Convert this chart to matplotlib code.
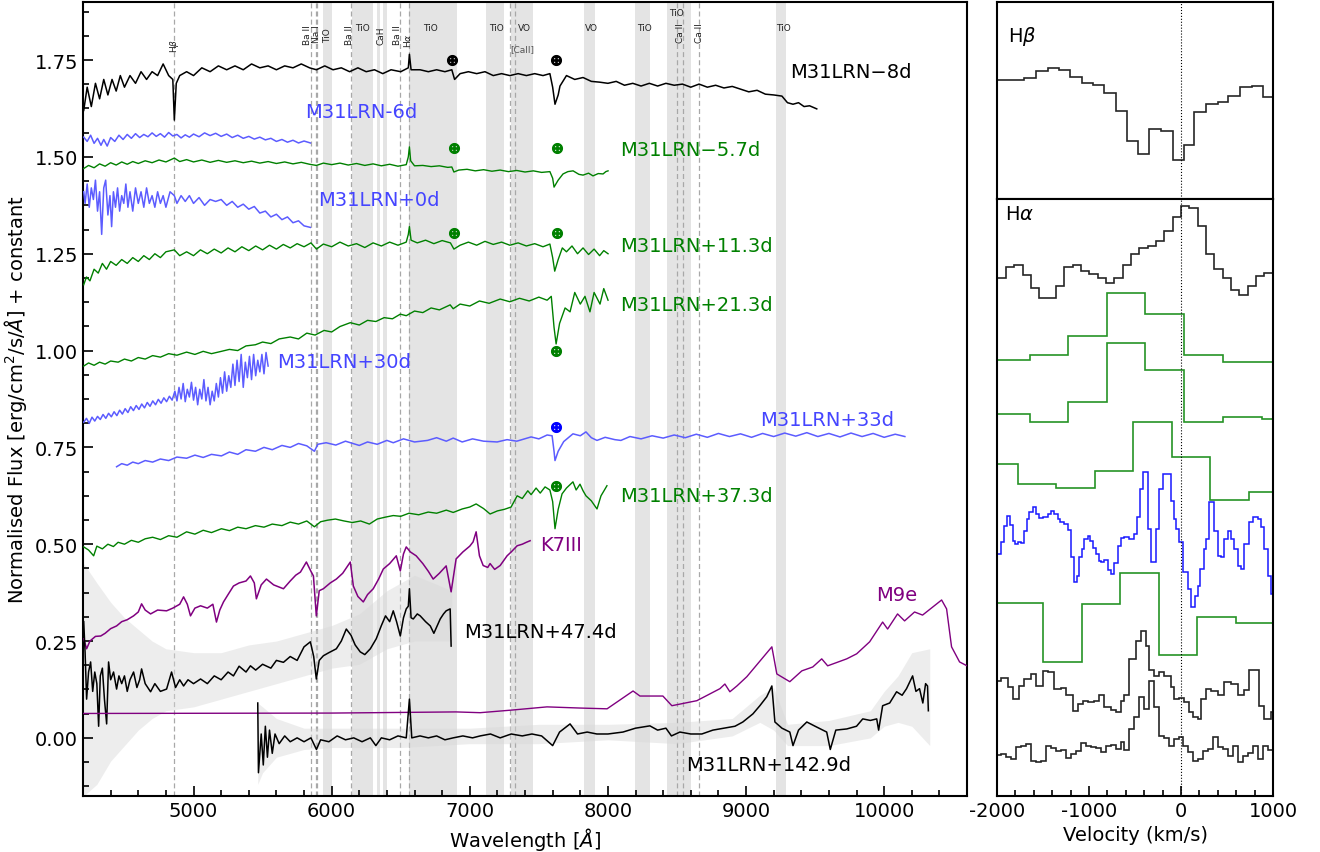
import matplotlib
matplotlib.use("Agg")
import matplotlib.pyplot as plt
from matplotlib.ticker import MultipleLocator, AutoMinorLocator

plt.rcParams["font.family"] = "DejaVu Sans"
plt.rcParams["mathtext.fontset"] = "dejavusans"
plt.rcParams["axes.unicode_minus"] = False

# ---------------- main panel spectra (wavelength [A], flux + offset) ----------------
wl_m8 = [4205, 4230, 4260, 4290, 4320, 4350, 4380, 4410, 4440, 4470, 4500, 4540, 4580, 4620,
         4660, 4700, 4740, 4780, 4820, 4850, 4861, 4875, 4900, 4950, 5000, 5060, 5120, 5180,
         5240, 5300, 5360, 5420, 5480, 5540, 5600, 5660, 5720, 5780, 5840, 5890, 5950, 6010,
         6070, 6130, 6190, 6250, 6310, 6370, 6430, 6500, 6555, 6563, 6575, 6640, 6700, 6760,
         6820, 6870, 6890, 6930, 6990, 7050, 7110, 7170, 7230, 7290, 7350, 7410, 7470, 7530,
         7580, 7600, 7617, 7640, 7653, 7700, 7760, 7820, 7880, 7940, 8000, 8060, 8120, 8180,
         8240, 8300, 8360, 8420, 8480, 8540, 8600, 8660, 8720, 8780, 8840, 8900, 8960, 9020,
         9080, 9140, 9200, 9260, 9300, 9340, 9380, 9420, 9460, 9512]
fl_m8 = [1.62, 1.68, 1.63, 1.69, 1.65, 1.70, 1.66, 1.70, 1.67, 1.71, 1.68, 1.71, 1.69, 1.72,
         1.70, 1.72, 1.71, 1.74, 1.71, 1.70, 1.595, 1.69, 1.71, 1.72, 1.71, 1.73, 1.72, 1.735,
         1.725, 1.735, 1.725, 1.74, 1.73, 1.735, 1.725, 1.735, 1.73, 1.74, 1.73, 1.725, 1.735, 1.725,
         1.73, 1.72, 1.73, 1.72, 1.725, 1.715, 1.725, 1.72, 1.73, 1.765, 1.725, 1.725, 1.72, 1.725,
         1.72, 1.725, 1.70, 1.715, 1.72, 1.715, 1.72, 1.71, 1.715, 1.71, 1.715, 1.71, 1.715, 1.71,
         1.715, 1.68, 1.636, 1.66, 1.683, 1.71, 1.70, 1.705, 1.695, 1.693, 1.69, 1.695, 1.685, 1.69,
         1.683, 1.69, 1.683, 1.69, 1.685, 1.688, 1.68, 1.688, 1.68, 1.685, 1.678, 1.682, 1.675, 1.668,
         1.672, 1.662, 1.66, 1.657, 1.64, 1.636, 1.64, 1.63, 1.632, 1.624]

wl_m6 = [4205, 4230, 4255, 4280, 4305, 4330, 4350, 4375, 4400, 4430, 4460, 4490, 4520, 4550,
         4580, 4610, 4640, 4670, 4700, 4730, 4760, 4790, 4820, 4850, 4880, 4910, 4940, 4970,
         5000, 5040, 5080, 5120, 5160, 5200, 5240, 5280, 5320, 5360, 5400, 5440, 5480, 5520,
         5560, 5600, 5640, 5680, 5720, 5760, 5800, 5846]
fl_m6 = [1.551, 1.540, 1.556, 1.535, 1.548, 1.530, 1.545, 1.528, 1.550, 1.540, 1.556, 1.545,
         1.558, 1.548, 1.560, 1.550, 1.558, 1.552, 1.562, 1.553, 1.560, 1.551, 1.563, 1.554,
         1.558, 1.549, 1.557, 1.551, 1.559, 1.552, 1.562, 1.555, 1.561, 1.553, 1.559, 1.550,
         1.556, 1.548, 1.553, 1.546, 1.551, 1.544, 1.548, 1.540, 1.545, 1.538, 1.543, 1.536,
         1.541, 1.536]

wl_m57 = [4205, 4240, 4280, 4320, 4360, 4400, 4440, 4480, 4520, 4560, 4600, 4650, 4700, 4750,
          4800, 4861, 4900, 4950, 5000, 5060, 5120, 5180, 5240, 5300, 5360, 5420, 5480, 5540,
          5600, 5660, 5720, 5780, 5840, 5890, 5940, 6000, 6060, 6120, 6180, 6240, 6300, 6360,
          6420, 6480, 6540, 6555, 6563, 6572, 6600, 6660, 6720, 6780, 6840, 6870, 6885, 6920,
          6980, 7040, 7100, 7160, 7220, 7280, 7340, 7400, 7460, 7520, 7580, 7600, 7610, 7640,
          7675, 7710, 7748, 7790, 7820, 7860, 7892, 7930, 7965, 7985, 8001]
fl_m57 = [1.470, 1.478, 1.472, 1.482, 1.476, 1.485, 1.479, 1.487, 1.481, 1.488, 1.483, 1.490,
          1.485, 1.492, 1.487, 1.497, 1.488, 1.493, 1.487, 1.492, 1.486, 1.491, 1.486, 1.490,
          1.485, 1.489, 1.484, 1.488, 1.483, 1.487, 1.482, 1.486, 1.481, 1.478, 1.484, 1.480,
          1.484, 1.479, 1.483, 1.478, 1.482, 1.477, 1.481, 1.476, 1.480, 1.500, 1.526, 1.490,
          1.477, 1.478, 1.475, 1.477, 1.473, 1.474, 1.461, 1.466, 1.468, 1.464, 1.467, 1.463,
          1.466, 1.462, 1.465, 1.461, 1.464, 1.460, 1.462, 1.445, 1.422, 1.440, 1.456, 1.462,
          1.464, 1.455, 1.453, 1.458, 1.451, 1.457, 1.456, 1.462, 1.464]

wl_p0 = [4205, 4215, 4230, 4245, 4260, 4275, 4290, 4305, 4320, 4335, 4350, 4364, 4380, 4395,
         4407, 4420, 4435, 4450, 4465, 4480, 4495, 4510, 4525, 4540, 4560, 4580, 4600, 4620,
         4640, 4660, 4680, 4700, 4720, 4740, 4760, 4780, 4800, 4830, 4861, 4880, 4910, 4940,
         4970, 5000, 5040, 5080, 5120, 5160, 5200, 5240, 5280, 5320, 5360, 5400, 5440, 5480,
         5520, 5560, 5600, 5640, 5680, 5720, 5760, 5800, 5846]
fl_p0 = [1.41, 1.38, 1.43, 1.37, 1.42, 1.39, 1.44, 1.36, 1.41, 1.30, 1.42, 1.44, 1.35, 1.40,
         1.32, 1.41, 1.37, 1.42, 1.36, 1.40, 1.38, 1.43, 1.37, 1.41, 1.36, 1.42, 1.38, 1.41,
         1.37, 1.42, 1.38, 1.40, 1.37, 1.41, 1.38, 1.40, 1.37, 1.41, 1.40, 1.38, 1.40, 1.385,
         1.40, 1.38, 1.395, 1.375, 1.39, 1.385, 1.39, 1.375, 1.385, 1.37, 1.378, 1.365, 1.372,
         1.355, 1.36, 1.345, 1.352, 1.338, 1.345, 1.33, 1.335, 1.322, 1.318]

wl_p113 = [4205, 4225, 4250, 4280, 4310, 4340, 4370, 4400, 4440, 4480, 4520, 4560, 4600, 4640,
           4680, 4720, 4760, 4800, 4861, 4900, 4950, 5000, 5050, 5100, 5150, 5200, 5250, 5300,
           5350, 5400, 5450, 5500, 5550, 5600, 5650, 5700, 5750, 5800, 5850, 5890, 5940, 6000,
           6060, 6120, 6180, 6240, 6300, 6360, 6420, 6480, 6540, 6555, 6563, 6575, 6620, 6680,
           6740, 6800, 6860, 6885, 6930, 6990, 7050, 7110, 7170, 7230, 7290, 7350, 7410, 7470,
           7530, 7580, 7600, 7615, 7640, 7670, 7700, 7740, 7780, 7820, 7860, 7900, 7940, 7970, 8001]
fl_p113 = [1.17, 1.19, 1.18, 1.21, 1.20, 1.225, 1.21, 1.23, 1.22, 1.235, 1.225, 1.24, 1.23, 1.245,
           1.235, 1.25, 1.24, 1.255, 1.26, 1.245, 1.255, 1.245, 1.26, 1.25, 1.262, 1.252, 1.265, 1.255,
           1.268, 1.258, 1.27, 1.26, 1.272, 1.262, 1.274, 1.265, 1.276, 1.268, 1.278, 1.262, 1.275, 1.268,
           1.28, 1.27, 1.276, 1.266, 1.278, 1.27, 1.28, 1.272, 1.28, 1.30, 1.32, 1.285, 1.278, 1.285,
           1.276, 1.284, 1.278, 1.262, 1.272, 1.28, 1.272, 1.282, 1.274, 1.28, 1.272, 1.278, 1.27, 1.276,
           1.268, 1.275, 1.24, 1.205, 1.235, 1.265, 1.255, 1.27, 1.25, 1.265, 1.248, 1.262, 1.245, 1.258, 1.25]

wl_p213 = [4205, 4240, 4280, 4320, 4360, 4400, 4454, 4500, 4550, 4600, 4650, 4704, 4760, 4820,
           4880, 4950, 5010, 5070, 5130, 5202, 5260, 5320, 5380, 5448, 5500, 5560, 5620, 5700,
           5760, 5820, 5880, 5945, 6000, 6060, 6135, 6200, 6260, 6320, 6380, 6440, 6497, 6540,
           6600, 6660, 6720, 6780, 6858, 6880, 6930, 7000, 7070, 7140, 7220, 7290, 7360, 7430,
           7500, 7560, 7590, 7610, 7625, 7650, 7690, 7726, 7760, 7800, 7834, 7870, 7900, 7943,
           7970, 8001]
fl_p213 = [0.960, 0.968, 0.962, 0.970, 0.965, 0.973, 0.970, 0.978, 0.973, 0.982, 0.978, 0.987,
           0.983, 0.992, 0.988, 0.996, 0.990, 0.998, 0.992, 0.998, 1.003, 1.000, 1.012, 1.015,
           1.022, 1.018, 1.030, 1.035, 1.030, 1.045, 1.040, 1.052, 1.048, 1.062, 1.072, 1.066,
           1.078, 1.075, 1.085, 1.082, 1.094, 1.090, 1.102, 1.098, 1.110, 1.105, 1.118, 1.108,
           1.120, 1.115, 1.128, 1.122, 1.133, 1.126, 1.135, 1.128, 1.138, 1.130, 1.140, 1.060,
           1.017, 1.070, 1.110, 1.100, 1.150, 1.120, 1.140, 1.100, 1.150, 1.120, 1.160, 1.130]

wl_p30 = [4205, 4225, 4245, 4265, 4285, 4305, 4325, 4345, 4365, 4385, 4405, 4425, 4445, 4465,
          4485, 4505, 4525, 4545, 4565, 4585, 4605, 4625, 4645, 4665, 4685, 4705, 4725, 4745,
          4765, 4785, 4805, 4825, 4845, 4865, 4880, 4895, 4910, 4925, 4940, 4955, 4970, 4985,
          5000, 5015, 5030, 5045, 5060, 5075, 5090, 5105, 5120, 5135, 5150, 5165, 5180, 5195,
          5210, 5225, 5240, 5255, 5270, 5285, 5300, 5315, 5330, 5345, 5360, 5375, 5390, 5405,
          5420, 5435, 5450, 5465, 5480, 5495, 5510, 5525, 5540]
fl_p30 = [0.815, 0.825, 0.812, 0.828, 0.818, 0.830, 0.822, 0.835, 0.825, 0.838, 0.829, 0.842,
          0.832, 0.846, 0.836, 0.850, 0.840, 0.855, 0.845, 0.858, 0.848, 0.862, 0.852, 0.866,
          0.856, 0.870, 0.860, 0.874, 0.864, 0.878, 0.868, 0.882, 0.872, 0.895, 0.870, 0.905,
          0.875, 0.915, 0.868, 0.900, 0.880, 0.918, 0.872, 0.905, 0.860, 0.900, 0.875, 0.925,
          0.870, 0.905, 0.860, 0.895, 0.870, 0.915, 0.880, 0.930, 0.890, 0.945, 0.895, 0.935,
          0.905, 0.965, 0.910, 0.975, 0.920, 0.990, 0.905, 0.970, 0.930, 0.985, 0.925, 0.990,
          0.935, 0.975, 0.945, 0.990, 0.940, 0.995, 0.960]

wl_p33 = [4443, 4480, 4520, 4560, 4600, 4650, 4704, 4760, 4820, 4880, 4950, 5010, 5070, 5130,
          5202, 5260, 5320, 5380, 5448, 5510, 5570, 5640, 5700, 5760, 5820, 5875, 5900, 5960,
          6030, 6100, 6200, 6260, 6330, 6400, 6446, 6520, 6600, 6694, 6760, 6830, 6880, 6945,
          7020, 7100, 7198, 7270, 7340, 7444, 7500, 7560, 7596, 7610, 7617, 7640, 7680, 7747,
          7800, 7841, 7880, 7921, 7980, 8050, 8094, 8160, 8240, 8320, 8400, 8480, 8560, 8640,
          8720, 8800, 8880, 8960, 9040, 9120, 9200, 9280, 9360, 9440, 9520, 9600, 9680, 9760,
          9840, 9920, 10000, 10080, 10150]
fl_p33 = [0.700, 0.708, 0.704, 0.712, 0.708, 0.716, 0.712, 0.720, 0.716, 0.725, 0.722, 0.730,
          0.724, 0.732, 0.728, 0.738, 0.732, 0.744, 0.740, 0.750, 0.744, 0.755, 0.750, 0.760,
          0.754, 0.740, 0.758, 0.762, 0.756, 0.766, 0.755, 0.764, 0.758, 0.768, 0.762, 0.772,
          0.764, 0.768, 0.775, 0.766, 0.774, 0.764, 0.772, 0.766, 0.764, 0.770, 0.766, 0.777,
          0.772, 0.782, 0.780, 0.740, 0.716, 0.740, 0.765, 0.785, 0.780, 0.790, 0.775, 0.768,
          0.776, 0.770, 0.768, 0.778, 0.772, 0.780, 0.774, 0.782, 0.775, 0.784, 0.776, 0.786,
          0.778, 0.785, 0.776, 0.786, 0.778, 0.787, 0.779, 0.788, 0.778, 0.786, 0.777, 0.787,
          0.778, 0.786, 0.776, 0.784, 0.778]

wl_p373 = [4205, 4240, 4277, 4300, 4340, 4380, 4420, 4454, 4500, 4550, 4600, 4650, 4704, 4760,
           4820, 4880, 4950, 5010, 5070, 5130, 5202, 5260, 5320, 5380, 5448, 5510, 5570, 5640,
           5700, 5760, 5820, 5875, 5920, 5970, 6027, 6090, 6150, 6210, 6273, 6330, 6390, 6446,
           6500, 6560, 6630, 6699, 6760, 6830, 6880, 6945, 7000, 7046, 7100, 7147, 7200, 7250,
           7299, 7343, 7380, 7420, 7444, 7480, 7510, 7545, 7580, 7600, 7617, 7640, 7668, 7700,
           7747, 7770, 7798, 7820, 7841, 7880, 7921, 7950, 7975, 7993]
fl_p373 = [0.493, 0.485, 0.470, 0.495, 0.488, 0.500, 0.494, 0.505, 0.500, 0.510, 0.505, 0.514,
           0.518, 0.512, 0.522, 0.518, 0.532, 0.526, 0.536, 0.530, 0.540, 0.535, 0.544, 0.540,
           0.548, 0.544, 0.552, 0.548, 0.557, 0.552, 0.560, 0.545, 0.558, 0.562, 0.565, 0.560,
           0.556, 0.560, 0.552, 0.565, 0.570, 0.574, 0.572, 0.580, 0.576, 0.583, 0.580, 0.588,
           0.582, 0.591, 0.596, 0.604, 0.592, 0.578, 0.586, 0.590, 0.596, 0.625, 0.618, 0.638,
           0.628, 0.645, 0.632, 0.648, 0.640, 0.610, 0.540, 0.590, 0.630, 0.645, 0.661, 0.640,
           0.655, 0.638, 0.625, 0.612, 0.591, 0.625, 0.640, 0.651]

wl_k7 = [4205, 4226, 4250, 4290, 4328, 4360, 4400, 4443, 4480, 4520, 4566, 4600, 4624, 4650,
         4689, 4740, 4805, 4850, 4900, 4928, 4955, 4978, 5010, 5051, 5100, 5140, 5166, 5190,
         5217, 5250, 5289, 5330, 5380, 5412, 5440, 5455, 5490, 5528, 5580, 5651, 5700, 5740,
         5774, 5817, 5850, 5868, 5889, 5910, 5940, 5990, 6034, 6080, 6135, 6157, 6190, 6229,
         6260, 6301, 6340, 6374, 6420, 6468, 6497, 6520, 6540, 6570, 6612, 6660, 6700, 6735,
         6780, 6829, 6865, 6901, 6950, 7000, 7024, 7046, 7070, 7097, 7130, 7147, 7180, 7220,
         7270, 7300, 7343, 7380, 7410, 7437]
fl_k7 = [0.256, 0.230, 0.250, 0.262, 0.263, 0.270, 0.282, 0.289, 0.300, 0.305, 0.315, 0.325,
         0.346, 0.330, 0.320, 0.330, 0.328, 0.335, 0.345, 0.364, 0.345, 0.315, 0.335, 0.341,
         0.335, 0.345, 0.299, 0.330, 0.351, 0.370, 0.392, 0.400, 0.405, 0.418, 0.400, 0.359,
         0.395, 0.410, 0.395, 0.385, 0.405, 0.420, 0.428, 0.454, 0.430, 0.418, 0.315, 0.380,
         0.385, 0.400, 0.410, 0.425, 0.454, 0.392, 0.365, 0.351, 0.370, 0.385, 0.410, 0.436,
         0.450, 0.470, 0.431, 0.475, 0.493, 0.480, 0.470, 0.450, 0.430, 0.410, 0.425, 0.444,
         0.377, 0.462, 0.480, 0.495, 0.506, 0.532, 0.470, 0.445, 0.440, 0.450, 0.435, 0.445,
         0.470, 0.480, 0.496, 0.500, 0.505, 0.509]

wl_p474 = [4205, 4215, 4226, 4240, 4255, 4270, 4285, 4300, 4313, 4325, 4340, 4355, 4371, 4385,
           4400, 4421, 4443, 4460, 4480, 4500, 4520, 4540, 4566, 4590, 4610, 4624, 4650, 4689,
           4720, 4760, 4805, 4841, 4870, 4900, 4928, 4960, 5000, 5051, 5100, 5150, 5200, 5250,
           5289, 5330, 5380, 5412, 5450, 5500, 5560, 5600, 5651, 5700, 5750, 5800, 5846, 5870,
           5889, 5910, 5940, 5980, 6034, 6070, 6106, 6140, 6170, 6207, 6240, 6280, 6323, 6360,
           6390, 6420, 6446, 6470, 6497, 6520, 6540, 6555, 6563, 6575, 6591, 6620, 6641, 6680,
           6714, 6740, 6786, 6810, 6829, 6858, 6865]
fl_p474 = [0.30, 0.22, 0.10, 0.17, 0.196, 0.12, 0.17, 0.14, 0.03, 0.16, 0.18, 0.10, 0.036, 0.196,
           0.15, 0.17, 0.126, 0.16, 0.14, 0.16, 0.12, 0.15, 0.17, 0.13, 0.15, 0.178, 0.14, 0.119,
           0.14, 0.12, 0.126, 0.17, 0.13, 0.15, 0.134, 0.15, 0.14, 0.152, 0.14, 0.16, 0.15, 0.17,
           0.16, 0.185, 0.17, 0.186, 0.175, 0.19, 0.18, 0.20, 0.195, 0.21, 0.20, 0.235, 0.248, 0.21,
           0.152, 0.20, 0.212, 0.22, 0.230, 0.25, 0.281, 0.265, 0.24, 0.222, 0.215, 0.23, 0.256, 0.29,
           0.315, 0.30, 0.328, 0.30, 0.263, 0.31, 0.333, 0.34, 0.385, 0.31, 0.307, 0.32, 0.315, 0.30,
           0.289, 0.27, 0.307, 0.32, 0.328, 0.333, 0.237]
env474_wl = [4205, 4300, 4400, 4500, 4600, 4700, 4800, 5000, 5200, 5400, 5600, 5800, 6000,
             6200, 6400, 6600, 6870]
env474_lo = [-0.15, -0.12, -0.06, -0.02, 0.02, 0.05, 0.07, 0.08, 0.10, 0.12, 0.14, 0.16, 0.18,
             0.19, 0.23, 0.25, 0.25]
env474_hi = [0.45, 0.40, 0.35, 0.31, 0.28, 0.25, 0.23, 0.22, 0.22, 0.24, 0.25, 0.27, 0.29,
             0.32, 0.38, 0.42, 0.38]

wl_m9 = [4205, 6000, 6900, 7075, 7313, 7559, 7798, 7994, 8182, 8232, 8398, 8463, 8644, 8811,
         8847, 8883, 8934, 9006, 9187, 9223, 9317, 9404, 9483, 9548, 9591, 9729, 9801, 9895,
         9989, 10025, 10097, 10148, 10220, 10278, 10416, 10452, 10488, 10546, 10600]
fl_m9 = [0.063, 0.064, 0.067, 0.065, 0.072, 0.080, 0.077, 0.075, 0.121, 0.108, 0.108, 0.083,
         0.096, 0.127, 0.139, 0.119, 0.134, 0.158, 0.235, 0.165, 0.145, 0.173, 0.183, 0.204,
         0.186, 0.204, 0.217, 0.248, 0.299, 0.281, 0.320, 0.302, 0.325, 0.317, 0.356, 0.333,
         0.235, 0.196, 0.186]

wl_p1429 = [5465, 5470, 5490, 5505, 5520, 5535, 5550, 5570, 5590, 5620, 5660, 5700, 5750, 5800,
            5850, 5890, 5920, 5980, 6040, 6100, 6160, 6220, 6280, 6320, 6360, 6420, 6480, 6540,
            6563, 6580, 6640, 6700, 6760, 6820, 6880, 6950, 7020, 7075, 7150, 7220, 7300, 7380,
            7450, 7520, 7600, 7650, 7726, 7780, 7850, 7920, 8000, 8109, 8200, 8304, 8360, 8420,
            8460, 8521, 8600, 8680, 8760, 8840, 8920, 8977, 9050, 9100, 9150, 9187, 9209, 9260,
            9317, 9340, 9380, 9440, 9500, 9584, 9610, 9650, 9729, 9800, 9845, 9900, 9946, 9960,
            9989, 10040, 10090, 10130, 10162, 10206, 10230, 10256, 10280, 10300, 10314, 10320]
fl_p1429 = [0.09, -0.09, 0.01, -0.07, 0.03, -0.05, 0.02, -0.04, 0.01, -0.015, 0.005, -0.01, 0.0,
            -0.01, 0.0, -0.03, -0.005, -0.01, 0.005, -0.005, 0.0, -0.01, 0.0, -0.02, 0.0, -0.005,
            0.005, 0.0, 0.10, 0.0, 0.005, 0.0, 0.005, -0.005, 0.0, 0.005, 0.0, 0.005, 0.01, 0.0,
            0.01, 0.005, 0.01, 0.005, -0.02, 0.015, 0.036, 0.01, 0.015, 0.01, 0.01, 0.015, 0.025,
            0.031, 0.02, 0.025, 0.005, 0.015, 0.01, 0.01, 0.02, 0.025, 0.03, 0.041, 0.062, 0.083,
            0.106, 0.134, 0.041, 0.025, 0.015, -0.02, 0.02, 0.041, 0.03, 0.015, -0.03, 0.02, 0.023,
            0.03, 0.049, 0.045, 0.049, 0.02, 0.083, 0.09, 0.119, 0.11, 0.127, 0.160, 0.12, 0.127,
            0.09, 0.14, 0.134, 0.07]
env1429_wl = [5465, 5500, 5600, 5800, 6000, 6500, 7000, 7500, 8000, 8500, 8900, 9100, 9200,
              9300, 9600, 9900, 10000, 10100, 10200, 10330]
env1429_lo = [-0.12, -0.09, -0.05, -0.03, -0.025, -0.025, -0.015, -0.015, -0.005, -0.015, 0.005,
              0.04, 0.02, -0.02, -0.02, 0.0, 0.03, 0.04, 0.03, -0.02]
env1429_hi = [0.09, 0.08, 0.05, 0.025, 0.025, 0.025, 0.025, 0.035, 0.035, 0.04, 0.05, 0.11, 0.13,
              0.035, 0.045, 0.07, 0.12, 0.16, 0.22, 0.23]

# shaded molecular bands and dashed line markers
bands = [(5940, 6005), (6150, 6300), (6330, 6352), (6374, 6403), (6560, 6910), (7120, 7250),
         (7300, 7455), (7830, 7905), (8195, 8305), (8425, 8605), (9215, 9290)]
line_wl = [4861, 5853, 5890, 5896, 6141, 6497, 6563, 7291, 7324, 8498, 8542, 8662]
rot_labels = [("H$\\beta$", 4863, 1.807), ("Ba II", 5824, 1.843), ("Na I", 5889, 1.843),
              ("TiO", 5969, 1.835), ("Ba II", 6128, 1.843), ("CaH", 6359, 1.838),
              ("Ba II", 6475, 1.843), ("H$\\alpha$", 6547, 1.822), ("Ca II", 8528, 1.848),
              ("Ca II", 8666, 1.848)]
flat_labels = [("TiO", 6222, 1.834), ("TiO", 6714, 1.834), ("TiO", 7191, 1.834), ("VO", 7394, 1.834),
               ("VO", 7878, 1.834), ("TiO", 8261, 1.834), ("TiO", 8499, 1.874), ("TiO", 9274, 1.834)]

# telluric markers (wavelength, flux, colour)
tell_wl = [6870, 7622, 6887, 7630, 6887, 7630, 7625, 7625, 7625]
tell_fl = [1.751, 1.751, 1.523, 1.523, 1.304, 1.304, 1.00, 0.803, 0.650]
tell_c = ["k", "k", "green", "green", "green", "green", "green", "blue", "green"]

# ---------------- velocity panels ----------------
hb_edges = [-2050, -1703, -1576, -1449, -1322, -1203, -1080, -960, -833, -707, -587, -464, -344,
            -217, -91, 29, 145, 272, 399, 514, 641, 768, 888, 1010]
hb_m8 = [0.604, 0.614, 0.650, 0.665, 0.655, 0.619, 0.589, 0.579, 0.538, 0.447, 0.294, 0.228,
         0.355, 0.345, 0.198, 0.274, 0.442, 0.482, 0.492, 0.523, 0.569, 0.574, 0.518]

ha_edges_m8 = [-1993, -1902, -1811, -1721, -1630, -1540, -1449, -1359, -1268, -1178, -1087, -997,
               -906, -816, -725, -634, -544, -453, -363, -272, -181, -91, 0, 91, 181, 272, 362,
               453, 543, 634, 725, 815, 906, 1010]
ha_m8 = [5.21, 5.32, 5.34, 5.24, 5.11, 5.01, 5.01, 5.13, 5.32, 5.34, 5.28, 5.25, 5.21, 5.16, 5.21,
         5.34, 5.45, 5.51, 5.53, 5.58, 5.68, 5.82, 5.93, 5.91, 5.73, 5.45, 5.30, 5.21, 5.09, 5.04,
         5.13, 5.23, 5.26]
ha_edges_lo_a = [-2056, -1638, -1225, -804, -388, 36, 453, 877, 1295]
ha_m57 = [4.38, 4.43, 4.62, 5.06, 4.84, 4.43, 4.36, 4.36]
ha_p113 = [3.84, 3.76, 3.96, 4.55, 4.28, 3.76, 3.81, 3.79]
ha_edges_lo_b = [-2195, -1777, -1359, -935, -518, -98, 319, 743, 1160]
ha_p213 = [3.34, 3.14, 3.10, 3.27, 3.76, 3.41, 2.97, 3.06]
ha_edges_lo_c = [-2340, -1920, -1504, -1080, -660, -243, 174, 598, 1020]
ha_p373 = [1.94, 1.94, 1.35, 1.93, 2.24, 1.42, 1.80, 1.74]

ha_edges_p33 = [-1989, -1957, -1924, -1891, -1859, -1826, -1804, -1772, -1739, -1707,
                -1674, -1652, -1609, -1576, -1544, -1500, -1446, -1413, -1380, -1337,
                -1315, -1272, -1228, -1196, -1163, -1130, -1109, -1076, -1054, -1011,
                -989, -957, -924, -891, -870, -837, -794, -761, -728, -685,
                -652, -620, -565, -511, -478, -446, -413, -359, -326, -272,
                -239, -196, -109, -76, -54, -22, 22, 76, 109, 152,
                185, 207, 250, 272, 304, 359, 402, 435, 467, 511,
                544, 576, 620, 652, 685, 739, 783, 837, 870, 902,
                946, 978, 1011]
ha_p33 = [2.43, 2.55, 2.71, 2.81, 2.72, 2.56, 2.53, 2.55, 2.54, 2.66,
          2.78, 2.85, 2.90, 2.83, 2.79, 2.80, 2.83, 2.86, 2.83, 2.78,
          2.75, 2.73, 2.67, 2.40, 2.15, 2.21, 2.40, 2.48, 2.58, 2.61,
          2.56, 2.49, 2.43, 2.36, 2.35, 2.37, 2.27, 2.23, 2.34, 2.51,
          2.59, 2.60, 2.58, 2.63, 2.80, 3.09, 3.26, 2.68, 2.35, 2.68,
          3.09, 3.24, 2.96, 2.78, 2.68, 2.55, 2.25, 2.08, 1.90, 2.01,
          2.11, 2.28, 2.48, 2.58, 2.95, 2.66, 2.41, 2.40, 2.58, 2.66,
          2.58, 2.48, 2.31, 2.28, 2.53, 2.75, 2.80, 2.78, 2.70, 2.48,
          2.21, 2.03]

ha_edges_p474 = [-1992, -1957, -1884, -1829, -1758, -1703, -1631, -1576, -1503, -1449,
                 -1377, -1304, -1250, -1177, -1123, -1069, -1014, -942, -888, -834,
                 -761, -707, -652, -616, -562, -489, -435, -380, -345, -290,
                 -236, -182, -109, -73, -18, 36, 90, 127, 182, 217,
                 272, 326, 399, 471, 544, 616, 688, 742, 851, 905, 978, 1010]
ha_p474 = [1.16, 1.19, 1.10, 0.97, 1.11, 1.18, 1.23, 1.11, 1.26, 1.25,
           1.08, 1.09, 1.01, 0.85, 0.92, 0.95, 0.94, 0.95, 1.01, 0.89,
           0.86, 0.84, 0.95, 1.01, 1.38, 1.56, 1.66, 1.51, 1.27, 1.21,
           1.25, 1.21, 1.10, 0.97, 0.98, 0.94, 0.84, 0.79, 0.77, 0.97,
           1.08, 1.05, 1.01, 1.15, 1.13, 1.01, 1.07, 1.27, 0.90, 0.77, 0.84]

ha_edges_p1429 = [-1993, -1957, -1902, -1848, -1793, -1739, -1685, -1631, -1576, -1522,
                  -1468, -1413, -1359, -1304, -1250, -1196, -1141, -1087, -1033, -978,
                  -924, -870, -815, -761, -707, -652, -616, -562, -507, -453,
                  -399, -344, -290, -236, -181, -127, -73, -18, 18, 72,
                  127, 181, 236, 290, 344, 399, 453, 507, 562, 616,
                  670, 725, 779, 833, 888, 942, 1010]
ha_p1429 = [0.41, 0.42, 0.39, 0.37, 0.49, 0.50, 0.52, 0.35, 0.34, 0.35,
            0.50, 0.48, 0.45, 0.46, 0.38, 0.42, 0.45, 0.53, 0.50, 0.49,
            0.48, 0.44, 0.50, 0.51, 0.47, 0.54, 0.46, 0.67, 0.79, 0.99,
            0.87, 1.16, 0.89, 0.60, 0.58, 0.50, 0.57, 0.59, 0.50, 0.44,
            0.35, 0.37, 0.45, 0.47, 0.59, 0.49, 0.47, 0.40, 0.50, 0.34,
            0.40, 0.43, 0.50, 0.37, 0.50, 0.46]

BLUE = (0.36, 0.36, 1.0)
BLUE_TXT = (0.27, 0.27, 1.0)

fig = plt.figure(figsize=(13.2, 8.53), dpi=100)
ax = fig.add_axes([0.0629, 0.0657, 0.6697, 0.9308])

for lo, hi in bands:
    ax.axvspan(lo, hi, color="#e4e4e4", lw=0, zorder=0)
for w in line_wl:
    ax.axvline(w, color="#a8a8a8", lw=0.9, ls=(0, (4, 2.5)), zorder=0.5)

# noisy unbinned spectra shown as a pale band behind the binned ones
ax.fill_between(env474_wl, env474_lo, env474_hi, color="#d8d8d8", alpha=0.45, lw=0, zorder=1)
ax.fill_between(env1429_wl, env1429_lo, env1429_hi, color="#d8d8d8", alpha=0.45, lw=0, zorder=1)

ax.plot(wl_m8, fl_m8, color="k", lw=1.1, zorder=3)
ax.plot(wl_m6, fl_m6, color=BLUE, lw=1.1, zorder=3)
ax.plot(wl_m57, fl_m57, color="green", lw=1.0, zorder=3)
ax.plot(wl_p0, fl_p0, color=BLUE, lw=1.1, zorder=3)
ax.plot(wl_p113, fl_p113, color="green", lw=1.0, zorder=3)
ax.plot(wl_p213, fl_p213, color="green", lw=1.0, zorder=3)
ax.plot(wl_p30, fl_p30, color=BLUE, lw=1.1, zorder=3)
ax.plot(wl_p33, fl_p33, color=BLUE, lw=1.1, zorder=3)
ax.plot(wl_p373, fl_p373, color="green", lw=1.0, zorder=3)
ax.plot(wl_k7, fl_k7, color="purple", lw=1.1, zorder=3)
ax.plot(wl_p474, fl_p474, color="k", lw=1.1, zorder=3)
ax.plot(wl_m9, fl_m9, color="purple", lw=1.0, zorder=3)
ax.plot(wl_p1429, fl_p1429, color="k", lw=1.1, zorder=3)

for w, f, c in zip(tell_wl, tell_fl, tell_c):
    ax.plot(w, f, marker=r"$\oplus$", color=c, ms=7, ls="none", zorder=4)

for txt, w, y in rot_labels:
    ax.text(w, y, txt, rotation=90, ha="center", va="top", fontsize=6.5, color="#222222")
for txt, w, y in flat_labels:
    ax.text(w, y, txt, ha="center", va="center", fontsize=6.5, color="#222222")
ax.text(7379, 1.779, "[CaII]", ha="center", va="center", fontsize=6.5, color="#555555")

lab = dict(fontsize=14, va="center", ha="left")
ax.text(9317, 1.72, "M31LRN\u22128d", color="k", **lab)
ax.text(5810, 1.616, "M31LRN-6d", color=BLUE_TXT, **lab)
ax.text(8088, 1.52, "M31LRN\u22125.7d", color="green", **lab)
ax.text(5904, 1.389, "M31LRN+0d", color=BLUE_TXT, **lab)
ax.text(8088, 1.27, "M31LRN+11.3d", color="green", **lab)
ax.text(8088, 1.12, "M31LRN+21.3d", color="green", **lab)
ax.text(5607, 0.973, "M31LRN+30d", color=BLUE_TXT, **lab)
ax.text(9100, 0.821, "M31LRN+33d", color=BLUE_TXT, **lab)
ax.text(8088, 0.625, "M31LRN+37.3d", color="green", **lab)
ax.text(7509, 0.498, "K7III", color="purple", **lab)
ax.text(9945, 0.369, "M9e", color="purple", **lab)
ax.text(6960, 0.274, "M31LRN+47.4d", color="k", **lab)
ax.text(8565, -0.07, "M31LRN+142.9d", color="k", **lab)

ax.set_xlim(4200, 10600)
ax.set_ylim(-0.15, 1.90)
ax.xaxis.set_major_locator(MultipleLocator(1000))
ax.xaxis.set_minor_locator(MultipleLocator(200))
ax.yaxis.set_major_locator(MultipleLocator(0.25))
ax.yaxis.set_minor_locator(AutoMinorLocator(4))
ax.tick_params(which="both", direction="in", labelsize=14, width=1.2)
ax.tick_params(which="major", length=7)
ax.tick_params(which="minor", length=4)
for s in ax.spines.values():
    s.set_linewidth(1.5)
ax.set_xlabel(r"Wavelength [$\AA$]", fontsize=14)
ax.set_ylabel(r"Normalised Flux [erg/cm$^2$/s/$\AA$] + constant", fontsize=14)

# velocity panels
axb = fig.add_axes([0.7553, 0.7655, 0.2091, 0.2310])
axa = fig.add_axes([0.7553, 0.0657, 0.2091, 0.6998])

axb.stairs(hb_m8, hb_edges, color="k", alpha=0.85, lw=1.2, baseline=None)
axb.axvline(0, color="k", ls=":", lw=0.8)
axb.set_xlim(-2000, 1000)
axb.set_ylim(0, 1)
axb.set_xticks([])
axb.set_yticks([])
axb.text(0.04, 0.83, r"H$\beta$", transform=axb.transAxes, fontsize=14, va="center")

axa.stairs(ha_m8, ha_edges_m8, color="k", alpha=0.85, lw=1.2, baseline=None)
axa.stairs(ha_m57, ha_edges_lo_a, color="green", alpha=0.85, lw=1.2, baseline=None)
axa.stairs(ha_p113, ha_edges_lo_a, color="green", alpha=0.85, lw=1.2, baseline=None)
axa.stairs(ha_p213, ha_edges_lo_b, color="green", alpha=0.85, lw=1.2, baseline=None)
axa.stairs(ha_p33, ha_edges_p33, color="blue", alpha=0.9, lw=1.1, baseline=None)
axa.stairs(ha_p373, ha_edges_lo_c, color="green", alpha=0.85, lw=1.2, baseline=None)
axa.stairs(ha_p474, ha_edges_p474, color="k", alpha=0.85, lw=1.2, baseline=None)
axa.stairs(ha_p1429, ha_edges_p1429, color="k", alpha=0.85, lw=1.2, baseline=None)
axa.axvline(0, color="k", ls=":", lw=0.8)
axa.set_xlim(-2000, 1000)
axa.set_ylim(0, 6)
axa.set_yticks([])
axa.xaxis.set_major_locator(MultipleLocator(1000))
axa.xaxis.set_minor_locator(MultipleLocator(200))
axa.tick_params(which="both", direction="in", labelsize=14, width=1.2, left=False)
axa.tick_params(which="major", length=7)
axa.tick_params(which="minor", length=4)
axa.set_xlabel("Velocity (km/s)", fontsize=14)
axa.text(0.03, 0.975, r"H$\alpha$", transform=axa.transAxes, fontsize=14, va="center")
for a in (axa, axb):
    for s in a.spines.values():
        s.set_linewidth(1.5)

fig.savefig("out.png", dpi=100)
